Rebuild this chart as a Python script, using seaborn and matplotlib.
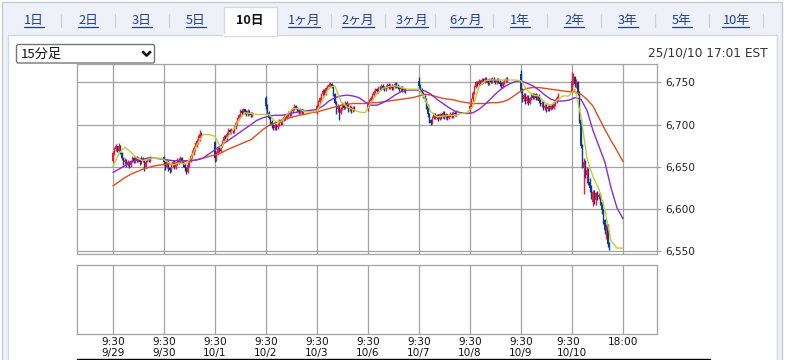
import numpy as np
import pandas as pd
import matplotlib
matplotlib.use("Agg")
import matplotlib.pyplot as plt
from matplotlib.patches import Rectangle, FancyBboxPatch
import seaborn as sns

# ------------------------------------------------------------------ data
sessions = ["9/29", "9/30", "10/1", "10/2", "10/3", "10/6", "10/7", "10/8", "10/9", "10/10"]
open_time_label = "9:30"
end_time_label = "18:00"
slots_per_day = 34      # 15-minute slots from 9:30 to 18:00
bars_per_day = 26       # traded 15-minute bars 9:30-16:00

opens = [
    6657,6666,6671,6674,6669,6675,6666,6660,6655,6658,6653,6656,6652,6657,6660,6656,6661,6657,6659,6655,6660,6658,6650,6656,6659,6658,
    6661,6655,6650,6657,6648,6646,6652,6656,6649,6654,6658,6655,6660,6657,6652,6648,6644,6652,6658,6663,6667,6672,6676,6680,6684,6689,
    6679,6660,6666,6671,6669,6675,6680,6685,6683,6689,6694,6691,6694,6692,6697,6702,6707,6711,6716,6714,6718,6715,6712,6716,6713,6711,
    6731,6722,6714,6708,6703,6699,6696,6700,6697,6700,6704,6702,6706,6709,6707,6711,6714,6712,6716,6719,6722,6720,6717,6715,6718,6715,
    6716,6722,6727,6731,6736,6740,6737,6743,6745,6747,6748,6745,6736,6726,6718,6722,6714,6719,6724,6720,6726,6722,6718,6721,6717,6720,
    6718,6724,6728,6732,6735,6739,6742,6740,6744,6743,6746,6744,6742,6745,6747,6744,6746,6743,6745,6748,6746,6744,6742,6744,6741,6742,
    6752,6746,6741,6737,6733,6730,6722,6712,6705,6702,6708,6712,6708,6711,6707,6712,6710,6714,6709,6712,6708,6711,6713,6710,6714,6712,
    6716,6722,6730,6738,6745,6750,6748,6752,6750,6753,6751,6754,6752,6749,6753,6751,6754,6752,6750,6753,6751,6748,6746,6750,6752,6754,
    6760,6740,6730,6735,6728,6733,6726,6731,6735,6732,6736,6731,6734,6728,6724,6726,6720,6722,6718,6721,6719,6722,6720,6724,6728,6732,
    6740,6752,6756,6748,6750,6738,6705,6675,6648,6655,6640,6646,6632,6625,6608,6620,6610,6618,6614,6616,6608,6598,6586,6566,6580,6558,
]
highs = [
    6668,6673,6677,6675,6678,6676,6667,6661,6660,6659,6658,6657,6658,6662,6661,6663,6662,6661,6660,6662,6661,6659,6658,6661,6661,6663,
    6663,6657,6659,6658,6650,6654,6658,6658,6656,6660,6660,6662,6661,6658,6654,6650,6655,6660,6665,6670,6675,6679,6683,6688,6693,6691,
    6681,6668,6673,6673,6677,6682,6687,6687,6691,6696,6695,6696,6695,6699,6704,6709,6713,6718,6718,6720,6719,6717,6718,6717,6715,6715,
    6734,6724,6716,6710,6705,6701,6702,6701,6702,6706,6705,6708,6711,6710,6713,6716,6715,6718,6721,6724,6723,6721,6719,6720,6718,6718,
    6725,6729,6733,6738,6742,6742,6745,6747,6749,6750,6749,6747,6738,6728,6724,6723,6721,6727,6725,6728,6728,6724,6723,6722,6722,6722,
    6726,6730,6734,6737,6741,6744,6744,6746,6746,6748,6748,6746,6747,6749,6749,6748,6748,6747,6750,6750,6748,6746,6746,6746,6744,6744,
    6756,6748,6743,6739,6735,6732,6724,6714,6707,6710,6714,6714,6713,6713,6714,6713,6716,6716,6714,6713,6713,6715,6715,6716,6716,6717,
    6724,6732,6740,6747,6752,6752,6754,6753,6755,6755,6756,6756,6754,6755,6755,6756,6756,6754,6755,6755,6753,6750,6752,6754,6756,6756,
    6765,6743,6737,6738,6735,6735,6733,6737,6737,6738,6738,6736,6736,6730,6728,6728,6724,6724,6723,6723,6724,6724,6726,6730,6734,6737,
    6763,6761,6758,6754,6752,6740,6707,6677,6660,6658,6649,6648,6636,6628,6622,6622,6620,6621,6619,6618,6610,6600,6588,6582,6582,6560,
]
lows = [
    6655,6664,6669,6667,6667,6665,6658,6652,6653,6650,6651,6648,6650,6655,6654,6654,6655,6655,6652,6653,6655,6645,6648,6655,6656,6656,
    6652,6646,6648,6645,6642,6644,6650,6647,6647,6652,6653,6654,6655,6650,6645,6641,6642,6650,6655,6660,6664,6669,6673,6677,6681,6686,
    6656,6657,6664,6667,6667,6673,6678,6681,6681,6687,6689,6689,6690,6690,6695,6700,6705,6709,6711,6712,6713,6710,6710,6711,6709,6709,
    6718,6712,6706,6700,6696,6693,6694,6694,6695,6698,6700,6700,6704,6705,6706,6709,6710,6710,6714,6717,6718,6715,6713,6713,6713,6713,
    6712,6720,6725,6729,6734,6735,6735,6741,6743,6745,6743,6734,6724,6713,6715,6705,6712,6717,6718,6718,6720,6715,6716,6714,6715,6716,
    6716,6722,6726,6730,6733,6737,6738,6738,6741,6741,6742,6740,6740,6743,6742,6742,6741,6741,6743,6744,6742,6740,6740,6739,6739,6738,
    6743,6739,6735,6731,6728,6719,6709,6702,6700,6701,6706,6706,6706,6704,6705,6707,6708,6706,6707,6705,6706,6709,6708,6708,6710,6710,
    6714,6720,6728,6736,6743,6746,6746,6748,6748,6749,6749,6750,6747,6747,6749,6749,6750,6748,6748,6749,6746,6743,6744,6748,6750,6751,
    6738,6727,6728,6725,6726,6723,6724,6729,6730,6730,6729,6729,6726,6722,6721,6717,6717,6715,6716,6716,6717,6718,6718,6722,6726,6730,
    6738,6747,6745,6744,6735,6702,6672,6648,6617,6636,6630,6628,6620,6612,6603,6605,6604,6610,6611,6604,6594,6582,6570,6564,6554,6551,
]
closes = [
    6666,6671,6674,6669,6675,6666,6660,6655,6658,6653,6656,6652,6657,6660,6656,6661,6657,6659,6655,6660,6658,6650,6656,6659,6658,6661,
    6655,6650,6657,6648,6646,6652,6656,6649,6654,6658,6655,6660,6657,6652,6648,6644,6652,6658,6663,6667,6672,6676,6680,6684,6689,6688,
    6660,6666,6671,6669,6675,6680,6685,6683,6689,6694,6691,6694,6692,6697,6702,6707,6711,6716,6714,6718,6715,6712,6716,6713,6711,6713,
    6722,6714,6708,6703,6699,6696,6700,6697,6700,6704,6702,6706,6709,6707,6711,6714,6712,6716,6719,6722,6720,6717,6715,6718,6715,6716,
    6722,6727,6731,6736,6740,6737,6743,6745,6747,6748,6745,6736,6726,6718,6722,6714,6719,6724,6720,6726,6722,6718,6721,6717,6720,6718,
    6724,6728,6732,6735,6739,6742,6740,6744,6743,6746,6744,6742,6745,6747,6744,6746,6743,6745,6748,6746,6744,6742,6744,6741,6742,6740,
    6746,6741,6737,6733,6730,6722,6712,6705,6702,6708,6712,6708,6711,6707,6712,6710,6714,6709,6712,6708,6711,6713,6710,6714,6712,6715,
    6722,6730,6738,6745,6750,6748,6752,6750,6753,6751,6754,6752,6749,6753,6751,6754,6752,6750,6753,6751,6748,6746,6750,6752,6754,6753,
    6740,6730,6735,6728,6733,6726,6731,6735,6732,6736,6731,6734,6728,6724,6726,6720,6722,6718,6721,6719,6722,6720,6724,6728,6732,6735,
    6752,6756,6748,6750,6738,6705,6675,6652,6655,6640,6646,6632,6625,6618,6620,6612,6618,6614,6616,6608,6598,6586,6574,6580,6558,6553,
]

ma_slots = list(range(0, 341, 4))
ma_short = [
    6650,6666,6673,6667,6660,6657,6659,6660,6660,6656,
    6652,6654,6653,6660,6676,6688,6688,6686,6672,6684,
    6693,6706,6714,6713,6712,6712,6712,6704,6703,6712,
    6719,6719,6715,6715,6716,6730,6744,6746,6727,6721,
    6718,6715,6714,6726,6737,6743,6745,6746,6744,6742,
    6742,6742,6731,6715,6709,6710,6711,6711,6713,6714,
    6722,6745,6752,6753,6753,6753,6753,6753,6752,6741,
    6735,6734,6726,6723,6729,6734,6734,6742,6710,6660,
    6638,6623,6598,6562,6553,6553,
]
ma_mid = [
    6643,6647,6651,6655,6658,6659,6660,6660,6659,6658,
    6657,6657,6657,6657,6658,6660,6665,6670,6675,6680,
    6685,6690,6695,6700,6705,6708,6710,6711,6711,6712,
    6714,6715,6716,6717,6718,6722,6728,6732,6734,6735,
    6734,6732,6727,6723,6723,6726,6730,6735,6739,6741,
    6741,6741,6740,6736,6730,6725,6720,6716,6714,6713,
    6714,6718,6724,6731,6738,6744,6748,6751,6752,6749,
    6746,6741,6735,6730,6728,6728,6729,6732,6730,6717,
    6693,6674,6655,6625,6601,6588,
]
ma_long = [
    6627,6632,6637,6641,6644,6647,6649,6651,6652,6653,
    6654,6655,6656,6657,6658,6660,6662,6664,6666,6670,
    6673,6676,6679,6682,6688,6694,6699,6702,6705,6707,
    6709,6711,6712,6714,6715,6717,6719,6721,6723,6724,
    6725,6725,6725,6726,6726,6727,6728,6729,6730,6731,
    6732,6734,6736,6735,6733,6731,6730,6729,6727,6726,
    6725,6725,6725,6726,6726,6727,6730,6735,6740,6743,
    6744,6744,6743,6742,6741,6740,6739,6739,6736,6730,
    6722,6708,6694,6681,6669,6656,
]

price_ticks = [6550, 6600, 6650, 6700, 6750]
price_tick_labels = ["6,550", "6,600", "6,650", "6,700", "6,750"]

tab_labels = ["1日", "2日", "3日", "5日", "10日", "1ヶ月", "2ヶ月", "3ヶ月", "6ヶ月", "1年", "2年", "3年", "5年", "10年"]
active_tab = "10日"
interval_label = "15分足"
timestamp_label = "25/10/10 17:01 EST"

# ------------------------------------------------------------------ style
sns.set_style("white")
plt.rcParams["font.family"] = ["DejaVu Sans", "Noto Sans CJK JP"]
CJK = ["Noto Sans CJK JP", "DejaVu Sans"]
UP, DOWN = "#f2173b", "#0d3a8e"
C_SHORT, C_MID, C_LONG = "#bccf30", "#8a2bd4", "#de4c1c"
GRID = "#a3a3a3"
LINK = "#1d3d96"

W, H = 786, 360
fig = plt.figure(figsize=(W / 100, H / 100), dpi=100)
fig.patch.set_facecolor("white")


def fax(x0, y0, x1, y1):
    return [x0 / W, 1 - y1 / H, (x1 - x0) / W, (y1 - y0) / H]


# page background / frame drawn in pixel coordinates
bg = fig.add_axes([0, 0, 1, 1])
bg.set_xlim(0, W)
bg.set_ylim(H, 0)
bg.axis("off")
bg.add_patch(Rectangle((1.5, 1.5), 780, 370, facecolor="#eef1f7", edgecolor="#c6cbd6", lw=1))
bg.add_patch(Rectangle((7.5, 34.5), 769.5, 340, facecolor="white", edgecolor="#d3d7df", lw=1))
bg.add_patch(Rectangle((223.5, 6.5), 53.5, 29, facecolor="white", edgecolor="#d3d7df", lw=1))
bg.plot([224.2, 276.3], [34.5, 34.5], color="white", lw=1.6)

tab_texts = []
for i, lab in enumerate(tab_labels):
    cx = 34 + 54 * i
    if lab == active_tab:
        bg.text(cx, 20.5, lab, ha="center", va="center", fontsize=9.2, fontweight="bold",
                color="#111111", family=CJK)
    else:
        t = bg.text(cx, 20.5, lab, ha="center", va="center", fontsize=9.2, color=LINK, family=CJK)
        tab_texts.append(t)
    if i not in (3, 4):
        sx = cx + 27 if i != 7 else cx + 23
        bg.plot([sx, sx], [13.5, 27], color="#d0d3da", lw=1)

# dropdown
bg.add_patch(FancyBboxPatch((16.5, 44.5), 138, 18.5, boxstyle="round,pad=0,rounding_size=2",
                            facecolor="white", edgecolor="#767676", lw=1))
bg.text(21, 54, interval_label, ha="left", va="center", fontsize=9.5, color="#111111", family=CJK)
bg.plot([142.3, 146.6, 150.9], [51.3, 55.6, 51.3], color="#111111", lw=1.9, solid_capstyle="butt")

bg.text(768, 52.5, timestamp_label, ha="right", va="center", fontsize=8.7, color="#333333")

bg.plot([77, 710], [359.3, 359.3], color="black", lw=1)

# ------------------------------------------------------------------ candles + MAs
n_days = len(sessions)
df = pd.DataFrame({"open": opens, "high": highs, "low": lows, "close": closes})
df["slot"] = [d * slots_per_day + s for d in range(n_days) for s in range(bars_per_day)]
up = df["close"] >= df["open"]
colors = np.where(up, UP, DOWN)

ma_df = pd.DataFrame({"slot": ma_slots, "short": ma_short, "mid": ma_mid, "long": ma_long})

xlim = (-24, 362.7)
day_ticks = [d * slots_per_day for d in range(n_days)] + [n_days * slots_per_day]
tick_texts = [f"{open_time_label}\n{d}" for d in sessions] + [end_time_label]

ax = fig.add_axes(fax(77, 64, 657, 254))
ax.set_facecolor("white")
ax.set_axisbelow(True)
ax.vlines(df["slot"], df["low"], df["high"], colors=colors, lw=1.0, zorder=2)
ax.bar(df["slot"], (df["close"] - df["open"]).abs().clip(lower=0.8),
       bottom=np.minimum(df["open"], df["close"]), width=1.0, color=colors, linewidth=0, zorder=2)
sns.lineplot(data=ma_df, x="slot", y="long", ax=ax, color=C_LONG, lw=1.0, sort=False, zorder=3)
sns.lineplot(data=ma_df, x="slot", y="mid", ax=ax, color=C_MID, lw=1.0, sort=False, zorder=3)
sns.lineplot(data=ma_df, x="slot", y="short", ax=ax, color=C_SHORT, lw=1.0, sort=False, zorder=3)

ax.set_xlim(*xlim)
ax.set_ylim(6546, 6772)
ax.set_xticks(day_ticks)
ax.set_xticklabels([])
ax.set_yticks(price_ticks)
ax.set_yticklabels(price_tick_labels)
ax.yaxis.tick_right()
ax.tick_params(axis="x", length=0)
ax.tick_params(axis="y", length=3, width=0.9, color=GRID, pad=3, labelsize=7.6, labelcolor="#222222")
ax.grid(True, color=GRID, lw=0.9)
ax.set_xlabel("")
ax.set_ylabel("")
for sp in ax.spines.values():
    sp.set_color(GRID)
    sp.set_linewidth(0.9)

# lower (empty) panel
ax2 = fig.add_axes(fax(77, 265, 657, 334))
ax2.set_facecolor("white")
ax2.set_xlim(*xlim)
ax2.set_ylim(0, 1)
ax2.set_yticks([])
ax2.set_xticks(day_ticks)
ax2.set_xticklabels([])
ax2.tick_params(axis="x", length=0)
ax2.grid(True, axis="x", color=GRID, lw=0.9)
for sp in ax2.spines.values():
    sp.set_color(GRID)
    sp.set_linewidth(0.9)
xt = ax2.get_xaxis_transform()
for pos, txt in zip(day_ticks, tick_texts):
    ax2.text(pos, -0.05, txt, transform=xt, ha="center", va="top", multialignment="left",
             fontsize=7.6, color="#111111", linespacing=1.12, clip_on=False)

# underline the tab links
fig.canvas.draw()
inv = bg.transData.inverted()
for t in tab_texts:
    bb = t.get_window_extent()
    (x0, _), (x1, _) = inv.transform([[bb.x0, bb.y0], [bb.x1, bb.y1]])
    bg.plot([x0, x1], [26.8, 26.8], color=LINK, lw=0.9)

fig.savefig("out.png", dpi=100)
